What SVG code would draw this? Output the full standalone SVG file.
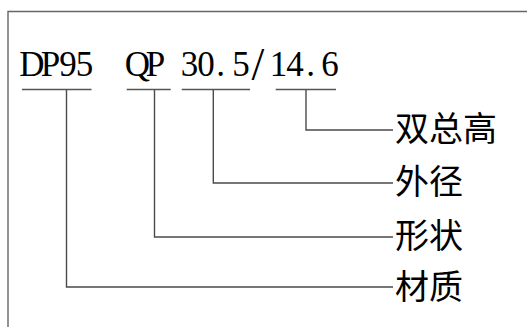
<svg xmlns="http://www.w3.org/2000/svg" width="527" height="327" viewBox="0 0 527 327">
<style>
.code{font-family:"Liberation Serif","Times New Roman",serif;font-size:35px;fill:#000;text-anchor:middle}
.slash{font-size:46px}
.lbl{font-family:"Noto Sans CJK SC",sans-serif;font-size:34px;fill:#000}
.ul{stroke:#555;stroke-width:1.4;fill:none}
.conn{stroke:#4a4a4a;stroke-width:1.4;fill:none}
.frame{stroke:#666;stroke-width:1.4;fill:none}
</style>
<rect width="527" height="327" fill="#fff"/>
<g id="frame">
<path class="frame" d="M8 327V11.5H527"/>
</g>
<g id="connectors">
<path class="conn" d="M306 89.5V130H393"/>
<path class="conn" d="M213.3 89.5V183H393"/>
<path class="conn" d="M154.5 89.5V237H393"/>
<path class="conn" d="M66.5 89.5V287H393"/>
</g>
<g id="code-dp95">
<text class="code" x="32 50.5 68 84.5" y="76">DP95</text>
<path class="ul" d="M22 89.5H91.5"/>
</g>
<g id="code-qp">
<text class="code" x="137.5 155.5" y="76">QP</text>
<path class="ul" d="M126.7 89.5H170.7"/>
</g>
<g id="code-od">
<text class="code" x="189.5 206 220.5 241" y="76">30.5</text>
<text class="code slash" x="258" y="80">/</text>
<path class="ul" d="M181.7 89.5H250"/>
</g>
<g id="code-height">
<text class="code" x="278.5 295 310.5 330" y="76">14.6</text>
<path class="ul" d="M275.7 89.5H336"/>
</g>
<g id="label-height"><text class="lbl" x="395" y="141">双总高</text></g>
<g id="label-od"><text class="lbl" x="395" y="194">外径</text></g>
<g id="label-shape"><text class="lbl" x="395" y="248">形状</text></g>
<g id="label-material"><text class="lbl" x="395" y="299">材质</text></g>
</svg>
